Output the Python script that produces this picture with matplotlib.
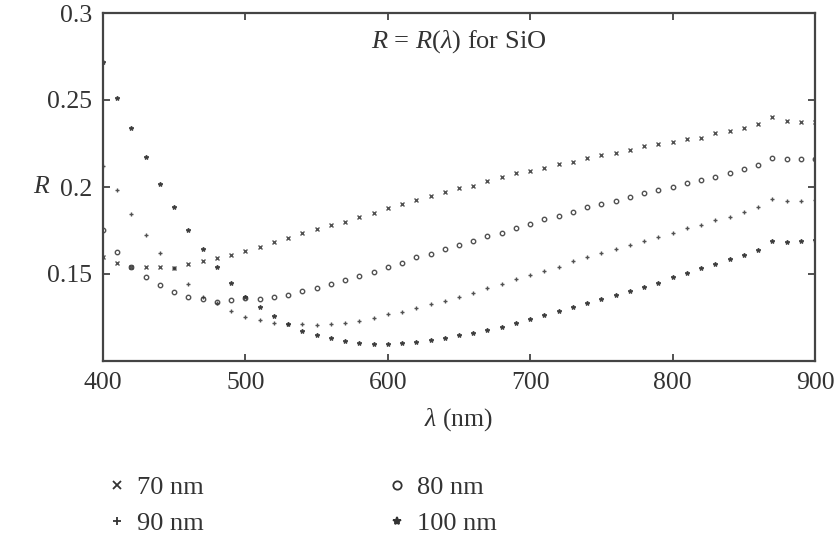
import numpy as np
import matplotlib
matplotlib.use("Agg")
import matplotlib.pyplot as plt
from matplotlib.lines import Line2D

plt.rcParams['font.family'] = ['Liberation Serif', 'DejaVu Serif']
plt.rcParams['mathtext.fontset'] = 'custom'
plt.rcParams['mathtext.rm'] = 'Liberation Serif'
plt.rcParams['mathtext.it'] = 'Liberation Serif:italic'

# Wavelength grid (nm)
wavelength = list(range(400, 901, 10))

# Reflectance of SiO films of different thickness
r_70nm = [0.1595, 0.1561, 0.1538, 0.1538, 0.1538, 0.1532, 0.1555, 0.1572, 0.1590, 0.1607,
          0.1630, 0.1653, 0.1682, 0.1705, 0.1734, 0.1757, 0.1780, 0.1798, 0.1827, 0.1850,
          0.1879, 0.1902, 0.1925, 0.1948, 0.1971, 0.1994, 0.2006, 0.2035, 0.2058, 0.2081,
          0.2092, 0.2110, 0.2133, 0.2145, 0.2168, 0.2185, 0.2197, 0.2214, 0.2237, 0.2249,
          0.2260, 0.2277, 0.2283, 0.2312, 0.2324, 0.2341, 0.2364, 0.2405, 0.2382, 0.2376,
          0.2376]
r_80nm = [0.1751, 0.1624, 0.1538, 0.1480, 0.1439, 0.1399, 0.1370, 0.1358, 0.1341, 0.1353,
          0.1364, 0.1358, 0.1370, 0.1382, 0.1405, 0.1422, 0.1445, 0.1468, 0.1491, 0.1514,
          0.1538, 0.1566, 0.1595, 0.1613, 0.1642, 0.1665, 0.1688, 0.1717, 0.1734, 0.1763,
          0.1786, 0.1815, 0.1832, 0.1855, 0.1884, 0.1902, 0.1919, 0.1942, 0.1965, 0.1983,
          0.2000, 0.2023, 0.2040, 0.2058, 0.2081, 0.2104, 0.2127, 0.2168, 0.2162, 0.2162,
          0.2162]
r_90nm = [0.2121, 0.1983, 0.1844, 0.1723, 0.1618, 0.1532, 0.1445, 0.1370, 0.1335, 0.1289,
          0.1254, 0.1237, 0.1220, 0.1214, 0.1214, 0.1208, 0.1214, 0.1220, 0.1231, 0.1249,
          0.1272, 0.1283, 0.1306, 0.1329, 0.1347, 0.1370, 0.1393, 0.1422, 0.1445, 0.1474,
          0.1497, 0.1520, 0.1543, 0.1572, 0.1595, 0.1618, 0.1642, 0.1665, 0.1688, 0.1711,
          0.1734, 0.1763, 0.1780, 0.1809, 0.1827, 0.1855, 0.1884, 0.1931, 0.1919, 0.1919,
          0.1925]
r_100nm = [0.2717, 0.2514, 0.2341, 0.2173, 0.2017, 0.1884, 0.1751, 0.1642, 0.1538, 0.1451,
           0.1370, 0.1312, 0.1260, 0.1214, 0.1173, 0.1150, 0.1133, 0.1116, 0.1104, 0.1098,
           0.1098, 0.1104, 0.1110, 0.1121, 0.1133, 0.1150, 0.1162, 0.1179, 0.1197, 0.1220,
           0.1243, 0.1266, 0.1289, 0.1312, 0.1335, 0.1358, 0.1382, 0.1405, 0.1428, 0.1451,
           0.1480, 0.1503, 0.1532, 0.1555, 0.1584, 0.1607, 0.1636, 0.1688, 0.1682, 0.1688,
           0.1694]

series_labels = ["70 nm", "80 nm", "90 nm", "100 nm"]
series_markers = ["x", "o", "+", "*"]
series_values = [r_70nm, r_80nm, r_90nm, r_100nm]

x_ticks = [400, 500, 600, 700, 800, 900]
y_ticks = [0.15, 0.2, 0.25, 0.3]
y_tick_labels = ["0.15", "0.2", "0.25", "0.3"]

ink = "#333333"

fig = plt.figure(figsize=(8.38, 5.40), dpi=100)
ax = fig.add_axes([103 / 838, 1 - 361 / 540, 712 / 838, 348 / 540])

for vals, mk in zip(series_values, series_markers):
    ax.plot(wavelength, vals, linestyle="none", marker=mk, markersize=3.2,
            markeredgewidth=1.0, color=ink, markerfacecolor=ink if mk != "o" else "none",
            alpha=0.85)

ax.set_xlim(400, 900)
ax.set_ylim(0.1, 0.3)
ax.set_xticks(x_ticks)
ax.set_yticks(y_ticks)
ax.set_yticklabels(y_tick_labels)
ax.tick_params(direction="in", length=5, width=1.2, top=True, right=True,
               labelsize=18.5, colors=ink, pad=8)
for sp in ax.spines.values():
    sp.set_linewidth(1.6)
    sp.set_color("#444444")

ax.set_xlabel(r"$\lambda$ (nm)", fontsize=18.5, color=ink, labelpad=9)
ax.set_ylabel(r"$R$", fontsize=18.5, color=ink, rotation=0, va="center", ha="center")
ax.yaxis.set_label_coords(-0.086, 0.5)
ax.text(0.5, 0.918, r"$R$ = $R$($\lambda$) for SiO", transform=ax.transAxes,
        ha="center", va="center", fontsize=19, color=ink)

# Legend below the plot, two columns
order = [0, 2, 1, 3]
handles = []
for i in order:
    mk = series_markers[i]
    handles.append(Line2D([], [], linestyle="none", marker=mk, markersize=6,
                          markeredgewidth=1.3, color=ink,
                          markerfacecolor="none" if mk == "o" else ink,
                          label=series_labels[i]))
fig.legend(handles=handles, ncol=2, loc="upper left",
           bbox_to_anchor=(109 / 838, 1 - 476 / 540), frameon=False,
           fontsize=19, labelcolor=ink, handlelength=0.6, handletextpad=0.45,
           columnspacing=7.05, labelspacing=0.45, borderaxespad=0, borderpad=0)

fig.savefig("out.png", dpi=100)
